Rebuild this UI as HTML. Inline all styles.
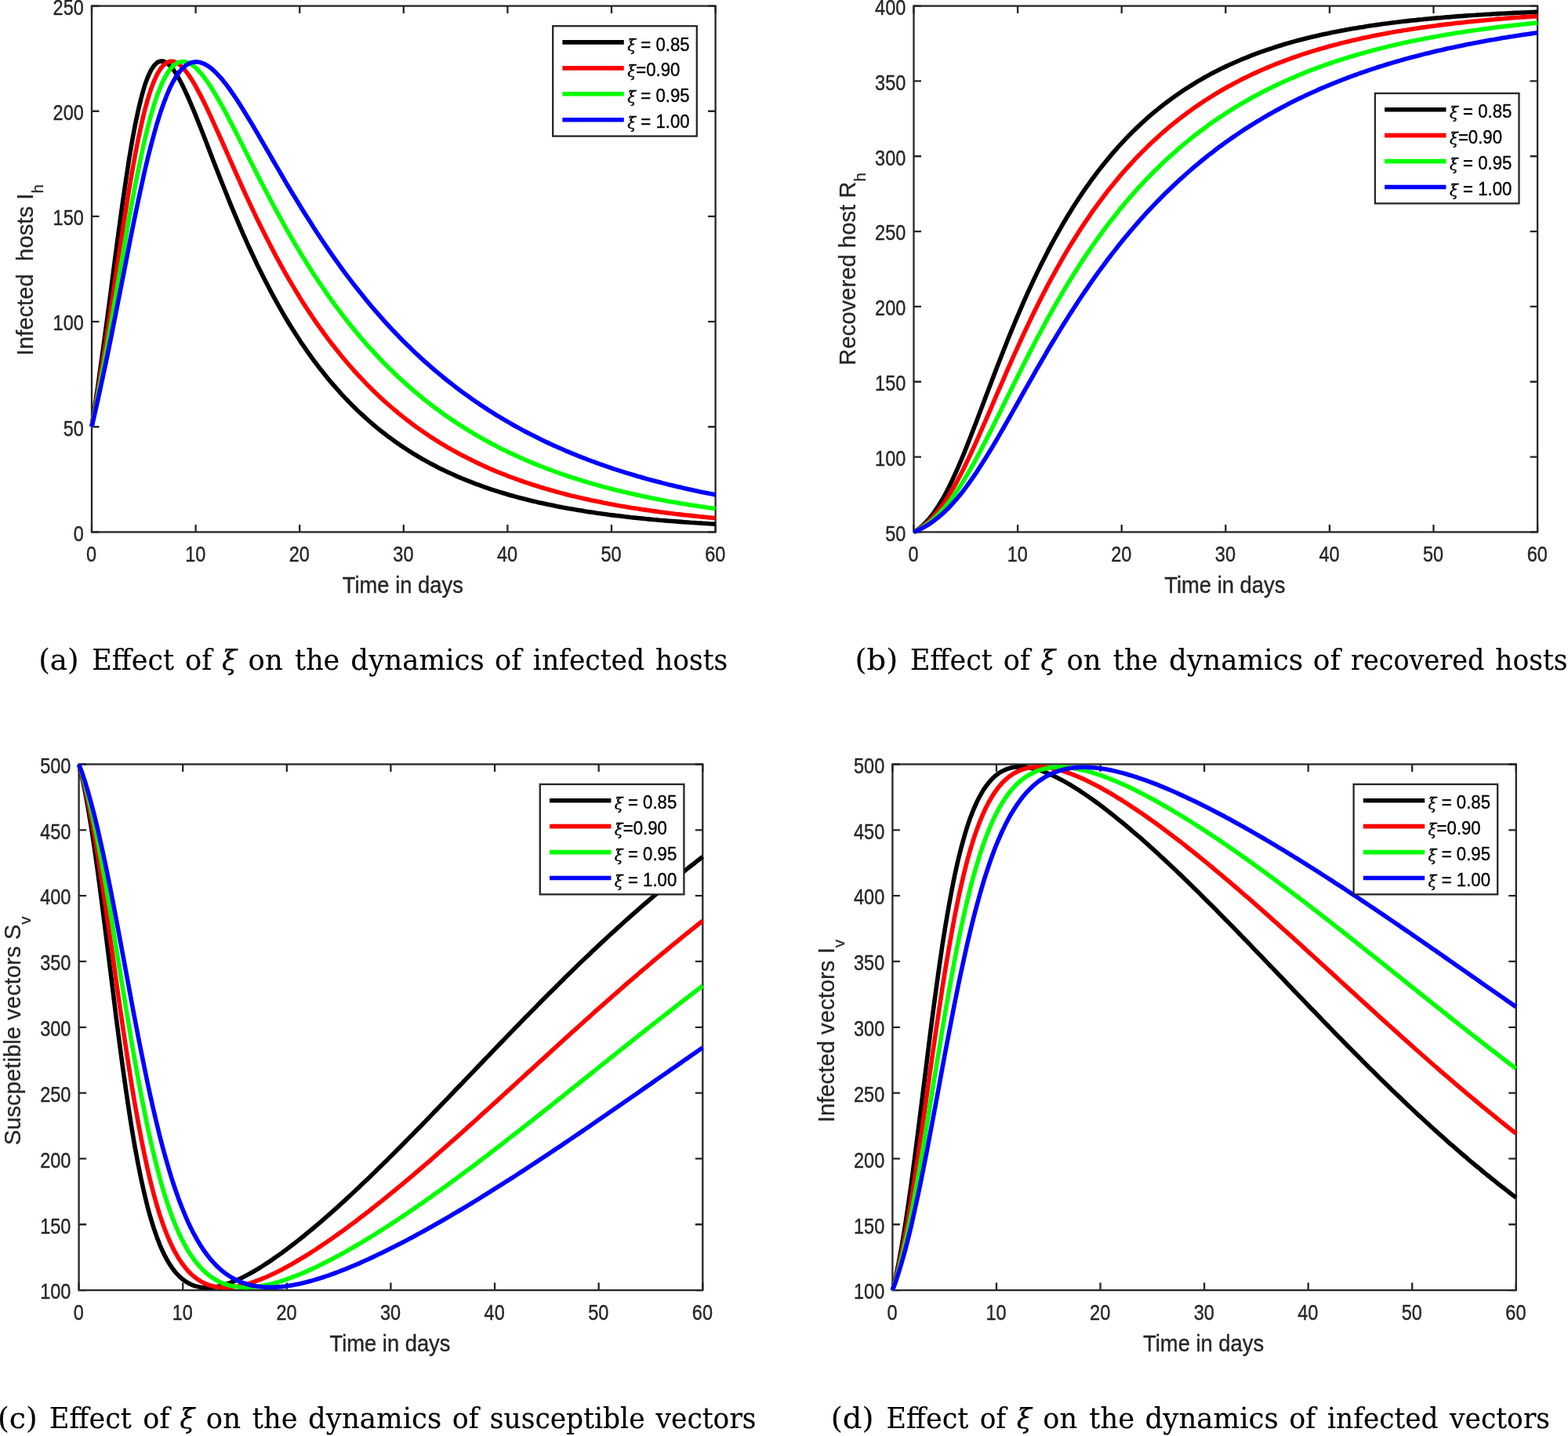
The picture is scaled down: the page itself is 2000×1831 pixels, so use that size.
<!DOCTYPE html>
<html lang="en">
<head>
<meta charset="utf-8">
<title>Effect of ξ on host and vector dynamics</title>
<style>
html,body{margin:0;padding:0;background:#ffffff;}
body{width:2000px;height:1831px;overflow:hidden;}
svg{display:block;}
text{white-space:pre;}
</style>
</head>
<body>
<svg width="2000" height="1831" viewBox="0 0 2000 1831" role="img" aria-label="Effect of xi on the dynamics of hosts and vectors">
<rect x="0" y="0" width="2000" height="1831" fill="#ffffff"/>
<g id="plot-a">
<rect x="117" y="7.6" width="795.6" height="670.8" fill="none" stroke="#262626" stroke-width="2.3"/>
<path d="M117 678.4v-9.5M117 7.6v9.5M249.6 678.4v-9.5M249.6 7.6v9.5M382.2 678.4v-9.5M382.2 7.6v9.5M514.8 678.4v-9.5M514.8 7.6v9.5M647.4 678.4v-9.5M647.4 7.6v9.5M780 678.4v-9.5M780 7.6v9.5M912.6 678.4v-9.5M912.6 7.6v9.5M117 678.4h9.5M912.6 678.4h-9.5M117 544.24h9.5M912.6 544.24h-9.5M117 410.08h9.5M912.6 410.08h-9.5M117 275.92h9.5M912.6 275.92h-9.5M117 141.76h9.5M912.6 141.76h-9.5M117 7.6h9.5M912.6 7.6h-9.5" stroke="#262626" stroke-width="2.3" fill="none"/>
<clipPath id="clip-a"><rect x="114" y="4.6" width="801.6" height="676.8"/></clipPath>
<g clip-path="url(#clip-a)" fill="none" stroke-width="5.6" stroke-linejoin="round" stroke-linecap="butt">
<path d="M117 544.2l4 -25.9l4 -26.9l3.9 -27.9l4 -28.8l4 -29.6l4 -30.1l3.9 -30.4l4 -30.3l4 -29.8l4 -28.8l4 -27.4l3.9 -25.7l4 -23.7l4 -21.3l4 -18.8l4 -16.3l3.9 -13.6l4 -10.9l4 -8.5l4 -6l3.9 -3.8l4 -1.7l4 0.1l4 1.9l3.9 3.3l4 4.6l4 5.8l4 6.8l4 7.5l3.9 8.2l4 8.8l4 9.3l4 9.6l3.9 9.9l4 10l4 10.3l4 10.2l4 10.4l3.9 10.3l4 10.2l4 10.2l4 10.1l4 10l3.9 9.9l4 9.7l4 9.6l4 9.4l3.9 9.2l4 9.1l4 8.9l4 8.7l4 8.5l3.9 8.4l4 8.1l4 8l4 7.8l4 7.7l3.9 7.4l4 7.3l4 7.2l4 6.9l3.9 6.8l4 6.7l4 6.4l4 6.4l4 6.1l3.9 6.1l4 5.8l4 5.8l4 5.6l3.9 5.5l4 5.3l4 5.2l4 5.1l4 5l3.9 4.8l4 4.7l4 4.6l4 4.5l3.9 4.4l4 4.3l4 4.1l4 4.1l3.9 4l4 3.9l4 3.7l4 3.7l4 3.6l3.9 3.5l4 3.5l4 3.3l4 3.3l3.9 3.1l4 3.1l4 3.1l4 2.9l4 2.9l3.9 2.8l4 2.8l4 2.6l4 2.6l4 2.6l3.9 2.5l4 2.4l4 2.4l4 2.3l3.9 2.2l4 2.2l4 2.1l4 2.1l4 2.1l3.9 2l4 1.9l4 1.9l4 1.8l4 1.8l3.9 1.8l4 1.7l4 1.7l4 1.6l3.9 1.6l4 1.5l4 1.6l4 1.4l3.9 1.5l4 1.4l4 1.4l4 1.3l4 1.3l3.9 1.3l4 1.2l4 1.2l4 1.2l3.9 1.2l4 1.1l4 1.1l4 1.1l4 1l3.9 1l4 1l4 1l4 0.9l4 1l3.9 0.8l4 0.9l4 0.9l4 0.8l3.9 0.8l4 0.8l4 0.8l4 0.8l4 0.7l3.9 0.7l4 0.7l4 0.7l4 0.7l3.9 0.6l4 0.7l4 0.6l4 0.6l4 0.6l3.9 0.6l4 0.5l4 0.6l4 0.5l4 0.6l3.9 0.5l4 0.5l4 0.4l4 0.5l3.9 0.5l4 0.4l4 0.5l4 0.4l3.9 0.4l4 0.4l4 0.4l4 0.4l4 0.4l3.9 0.4l4 0.3l4 0.4l4 0.3l4 0.4l3.9 0.3l4 0.3l4 0.3l4 0.3l3.9 0.3l4 0.3l4 0.3l4 0.3l4 0.2l3.9 0.3l4 0.2l4 0.3l4 0.2l3.9 0.3l4 0.2l4 0.2" stroke="#000000"/>
<path d="M117 544.2l4 -22.7l4 -23.4l3.9 -24.2l4 -24.9l4 -25.6l4 -26.2l3.9 -26.5l4 -26.6l4 -26.6l4 -26.2l4 -25.5l3.9 -24.5l4 -23.4l4 -21.9l4 -20.3l4 -18.5l3.9 -16.5l4 -14.6l4 -12.5l4 -10.5l3.9 -8.5l4 -6.7l4 -4.8l4 -3.1l3.9 -1.6l4 -0.1l4 1.2l4 2.5l4 3.5l3.9 4.4l4 5.2l4 6l4 6.6l3.9 7.1l4 7.6l4 7.9l4 8.3l4 8.5l3.9 8.7l4 8.8l4 8.9l4 9l4 9l3.9 9l4 9l4 9l4 8.9l3.9 8.8l4 8.8l4 8.6l4 8.6l4 8.4l3.9 8.3l4 8.2l4 8l4 7.9l4 7.8l3.9 7.6l4 7.6l4 7.3l4 7.3l3.9 7l4 7l4 6.8l4 6.7l4 6.6l3.9 6.4l4 6.3l4 6.2l4 6l3.9 5.9l4 5.8l4 5.7l4 5.5l4 5.5l3.9 5.3l4 5.2l4 5.1l4 5l3.9 4.9l4 4.8l4 4.7l4 4.5l3.9 4.5l4 4.4l4 4.3l4 4.2l4 4.2l3.9 4l4 3.9l4 3.9l4 3.8l3.9 3.7l4 3.6l4 3.5l4 3.5l4 3.4l3.9 3.3l4 3.2l4 3.2l4 3.1l4 3.1l3.9 2.9l4 3l4 2.8l4 2.8l3.9 2.7l4 2.7l4 2.6l4 2.6l4 2.5l3.9 2.4l4 2.4l4 2.4l4 2.3l4 2.2l3.9 2.2l4 2.2l4 2.1l4 2l3.9 2l4 2l4 1.9l4 1.9l3.9 1.9l4 1.8l4 1.8l4 1.7l4 1.7l3.9 1.7l4 1.6l4 1.6l4 1.5l3.9 1.6l4 1.4l4 1.5l4 1.4l4 1.4l3.9 1.4l4 1.3l4 1.3l4 1.3l4 1.2l3.9 1.3l4 1.2l4 1.1l4 1.2l3.9 1.1l4 1.1l4 1.1l4 1l4 1.1l3.9 1l4 1l4 0.9l4 1l3.9 0.9l4 0.9l4 0.9l4 0.9l4 0.8l3.9 0.8l4 0.8l4 0.9l4 0.7l4 0.8l3.9 0.7l4 0.8l4 0.7l4 0.7l3.9 0.6l4 0.7l4 0.7l4 0.6l3.9 0.6l4 0.6l4 0.7l4 0.5l4 0.6l3.9 0.6l4 0.5l4 0.6l4 0.5l4 0.5l3.9 0.5l4 0.5l4 0.5l4 0.4l3.9 0.5l4 0.5l4 0.4l4 0.4l4 0.5l3.9 0.4l4 0.4l4 0.4l4 0.4l3.9 0.4l4 0.3l4 0.4" stroke="#ff0000"/>
<path d="M117 544.2l4 -19.8l4 -20.4l3.9 -21l4 -21.5l4 -22.1l4 -22.6l3.9 -23l4 -23.2l4 -23.3l4 -23.3l4 -23l3.9 -22.6l4 -22l4 -21.1l4 -20.2l4 -19.1l3.9 -17.8l4 -16.4l4 -15l4 -13.5l3.9 -11.9l4 -10.4l4 -8.8l4 -7.3l3.9 -5.9l4 -4.5l4 -3.2l4 -2l4 -0.7l3.9 0.2l4 1.3l4 2.2l4 3l3.9 3.7l4 4.3l4 5l4 5.5l4 5.9l3.9 6.3l4 6.6l4 6.9l4 7.1l4 7.4l3.9 7.5l4 7.6l4 7.8l4 7.8l3.9 7.8l4 7.9l4 7.9l4 7.9l4 7.8l3.9 7.8l4 7.8l4 7.7l4 7.6l4 7.6l3.9 7.5l4 7.4l4 7.3l4 7.2l3.9 7.1l4 7l4 6.9l4 6.8l4 6.7l3.9 6.6l4 6.5l4 6.4l4 6.3l3.9 6.2l4 6.1l4 5.9l4 5.9l4 5.8l3.9 5.7l4 5.5l4 5.5l4 5.4l3.9 5.2l4 5.2l4 5.1l4 5l3.9 4.9l4 4.8l4 4.7l4 4.7l4 4.5l3.9 4.5l4 4.4l4 4.3l4 4.2l3.9 4.2l4 4l4 4l4 4l4 3.8l3.9 3.8l4 3.7l4 3.6l4 3.6l4 3.5l3.9 3.4l4 3.4l4 3.3l4 3.3l3.9 3.2l4 3.1l4 3.1l4 3l4 2.9l3.9 2.9l4 2.9l4 2.8l4 2.7l4 2.7l3.9 2.6l4 2.6l4 2.6l4 2.5l3.9 2.4l4 2.4l4 2.4l4 2.3l3.9 2.2l4 2.3l4 2.1l4 2.2l4 2.1l3.9 2.1l4 2l4 2l4 1.9l3.9 1.9l4 1.9l4 1.8l4 1.9l4 1.7l3.9 1.8l4 1.7l4 1.6l4 1.7l4 1.6l3.9 1.6l4 1.5l4 1.6l4 1.4l3.9 1.5l4 1.5l4 1.4l4 1.4l4 1.3l3.9 1.4l4 1.3l4 1.2l4 1.3l3.9 1.2l4 1.3l4 1.1l4 1.2l4 1.2l3.9 1.1l4 1.1l4 1.1l4 1l4 1.1l3.9 1l4 1l4 1l4 0.9l3.9 1l4 0.9l4 1l4 0.8l3.9 0.9l4 0.9l4 0.8l4 0.9l4 0.8l3.9 0.8l4 0.8l4 0.7l4 0.8l4 0.7l3.9 0.8l4 0.7l4 0.7l4 0.7l3.9 0.6l4 0.7l4 0.6l4 0.7l4 0.6l3.9 0.6l4 0.6l4 0.6l4 0.6l3.9 0.6l4 0.5l4 0.6" stroke="#00ff00"/>
<path d="M117 544.2l4 -17.3l4 -17.7l3.9 -18.2l4 -18.6l4 -19l4 -19.5l3.9 -19.8l4 -20.1l4 -20.2l4 -20.4l4 -20.4l3.9 -20.2l4 -20l4 -19.6l4 -19l4 -18.5l3.9 -17.7l4 -16.8l4 -15.9l4 -14.9l3.9 -13.8l4 -12.7l4 -11.5l4 -10.4l3.9 -9.2l4 -8l4 -6.8l4 -5.8l4 -4.6l3.9 -3.6l4 -2.6l4 -1.7l4 -0.8l3.9 0.1l4 0.8l4 1.5l4 2.1l4 2.8l3.9 3.3l4 3.8l4 4.3l4 4.6l4 5l3.9 5.3l4 5.6l4 5.9l4 6l3.9 6.3l4 6.4l4 6.5l4 6.6l4 6.7l3.9 6.7l4 6.9l4 6.8l4 6.9l4 6.9l3.9 6.8l4 6.9l4 6.8l4 6.8l3.9 6.8l4 6.7l4 6.7l4 6.6l4 6.5l3.9 6.5l4 6.4l4 6.4l4 6.2l3.9 6.2l4 6.2l4 6l4 6l4 5.9l3.9 5.8l4 5.7l4 5.7l4 5.6l3.9 5.5l4 5.4l4 5.3l4 5.3l3.9 5.1l4 5.1l4 5l4 5l4 4.9l3.9 4.7l4 4.8l4 4.6l4 4.6l3.9 4.5l4 4.4l4 4.4l4 4.3l4 4.2l3.9 4.1l4 4.1l4 4l4 4l4 3.9l3.9 3.8l4 3.8l4 3.7l4 3.7l3.9 3.5l4 3.6l4 3.4l4 3.5l4 3.3l3.9 3.3l4 3.3l4 3.2l4 3.1l4 3.1l3.9 3.1l4 3l4 2.9l4 2.9l3.9 2.8l4 2.9l4 2.7l4 2.7l3.9 2.7l4 2.6l4 2.6l4 2.6l4 2.4l3.9 2.5l4 2.4l4 2.4l4 2.3l3.9 2.3l4 2.3l4 2.2l4 2.2l4 2.2l3.9 2.1l4 2.1l4 2l4 2l4 2l3.9 2l4 1.9l4 1.9l4 1.8l3.9 1.9l4 1.7l4 1.8l4 1.7l4 1.8l3.9 1.6l4 1.7l4 1.6l4 1.6l3.9 1.6l4 1.5l4 1.6l4 1.5l4 1.4l3.9 1.5l4 1.4l4 1.4l4 1.4l4 1.3l3.9 1.4l4 1.3l4 1.3l4 1.2l3.9 1.3l4 1.2l4 1.2l4 1.2l3.9 1.2l4 1.1l4 1.2l4 1.1l4 1.1l3.9 1l4 1.1l4 1l4 1.1l4 1l3.9 1l4 0.9l4 1l4 0.9l3.9 0.9l4 1l4 0.9l4 0.8l4 0.9l3.9 0.9l4 0.8l4 0.8l4 0.8l3.9 0.8l4 0.8l4 0.8" stroke="#0000ff"/>
</g>
<g font-family="'Liberation Sans', Arial, Helvetica, sans-serif" font-size="27" fill="#262626" stroke="#262626" stroke-width="0.4" stroke-linejoin="round">
<text transform="translate(116.6 716.4) scale(0.87 1)" text-anchor="middle">0</text>
<text transform="translate(249.2 716.4) scale(0.87 1)" text-anchor="middle">10</text>
<text transform="translate(381.8 716.4) scale(0.87 1)" text-anchor="middle">20</text>
<text transform="translate(514.4 716.4) scale(0.87 1)" text-anchor="middle">30</text>
<text transform="translate(647 716.4) scale(0.87 1)" text-anchor="middle">40</text>
<text transform="translate(779.6 716.4) scale(0.87 1)" text-anchor="middle">50</text>
<text transform="translate(912.2 716.4) scale(0.87 1)" text-anchor="middle">60</text>
<text transform="translate(106.8 689.7) scale(0.87 1)" text-anchor="end">0</text>
<text transform="translate(106.8 555.54) scale(0.87 1)" text-anchor="end">50</text>
<text transform="translate(106.8 421.38) scale(0.87 1)" text-anchor="end">100</text>
<text transform="translate(106.8 287.22) scale(0.87 1)" text-anchor="end">150</text>
<text transform="translate(106.8 153.06) scale(0.87 1)" text-anchor="end">200</text>
<text transform="translate(106.8 18.9) scale(0.87 1)" text-anchor="end">250</text>
</g>
<g font-family="'Liberation Sans', Arial, Helvetica, sans-serif" font-size="29.6" fill="#262626" stroke="#262626" stroke-width="0.4" stroke-linejoin="round">
<text transform="translate(513.8 755.8) scale(0.9 1)" text-anchor="middle" font-size="30.4">Time in days</text>
<text transform="translate(42.2 344.3) rotate(-90) scale(0.99 1)" text-anchor="middle" font-size="29.6" stroke-width="0.25" xml:space="preserve">Infected  hosts I<tspan font-size="20.7" dy="13">h</tspan></text>
</g>
<rect x="705.2" y="33.2" width="183.6" height="140.4" fill="#ffffff" stroke="#262626" stroke-width="2.3"/>
<path d="M717.4 53.9h78.4" stroke="#000000" stroke-width="5.6" fill="none"/>
<text transform="translate(800.2 64.5) scale(0.94 1)" font-family="'Liberation Sans', Arial, Helvetica, sans-serif" font-size="23.6" fill="#000000" stroke="#000000" stroke-width="0.35" xml:space="preserve"><tspan font-family="'DejaVu Serif', 'Liberation Serif', serif" font-style="italic" font-size="21.24" dy="0.5">ξ</tspan><tspan dx="0" dy="-0.5"> = 0.85</tspan></text>
<path d="M717.4 86.85h78.4" stroke="#ff0000" stroke-width="5.6" fill="none"/>
<text transform="translate(800.2 97.45) scale(0.94 1)" font-family="'Liberation Sans', Arial, Helvetica, sans-serif" font-size="23.6" fill="#000000" stroke="#000000" stroke-width="0.35" xml:space="preserve"><tspan font-family="'DejaVu Serif', 'Liberation Serif', serif" font-style="italic" font-size="21.24" dy="0.5">ξ</tspan><tspan dx="0" dy="-0.5">=0.90</tspan></text>
<path d="M717.4 119.8h78.4" stroke="#00ff00" stroke-width="5.6" fill="none"/>
<text transform="translate(800.2 130.4) scale(0.94 1)" font-family="'Liberation Sans', Arial, Helvetica, sans-serif" font-size="23.6" fill="#000000" stroke="#000000" stroke-width="0.35" xml:space="preserve"><tspan font-family="'DejaVu Serif', 'Liberation Serif', serif" font-style="italic" font-size="21.24" dy="0.5">ξ</tspan><tspan dx="0" dy="-0.5"> = 0.95</tspan></text>
<path d="M717.4 152.75h78.4" stroke="#0000ff" stroke-width="5.6" fill="none"/>
<text transform="translate(800.2 163.35) scale(0.94 1)" font-family="'Liberation Sans', Arial, Helvetica, sans-serif" font-size="23.6" fill="#000000" stroke="#000000" stroke-width="0.35" xml:space="preserve"><tspan font-family="'DejaVu Serif', 'Liberation Serif', serif" font-style="italic" font-size="21.24" dy="0.5">ξ</tspan><tspan dx="0" dy="-0.5"> = 1.00</tspan></text>
</g>
<g id="plot-b">
<rect x="1165.5" y="7.6" width="795.6" height="670.8" fill="none" stroke="#262626" stroke-width="2.3"/>
<path d="M1165.5 678.4v-9.5M1165.5 7.6v9.5M1298.1 678.4v-9.5M1298.1 7.6v9.5M1430.7 678.4v-9.5M1430.7 7.6v9.5M1563.3 678.4v-9.5M1563.3 7.6v9.5M1695.9 678.4v-9.5M1695.9 7.6v9.5M1828.5 678.4v-9.5M1828.5 7.6v9.5M1961.1 678.4v-9.5M1961.1 7.6v9.5M1165.5 678.4h9.5M1961.1 678.4h-9.5M1165.5 582.57h9.5M1961.1 582.57h-9.5M1165.5 486.74h9.5M1961.1 486.74h-9.5M1165.5 390.91h9.5M1961.1 390.91h-9.5M1165.5 295.09h9.5M1961.1 295.09h-9.5M1165.5 199.26h9.5M1961.1 199.26h-9.5M1165.5 103.43h9.5M1961.1 103.43h-9.5M1165.5 7.6h9.5M1961.1 7.6h-9.5" stroke="#262626" stroke-width="2.3" fill="none"/>
<clipPath id="clip-b"><rect x="1162.5" y="4.6" width="801.6" height="676.8"/></clipPath>
<g clip-path="url(#clip-b)" fill="none" stroke-width="5.6" stroke-linejoin="round" stroke-linecap="butt">
<path d="M1165.5 678.4l4 -2.5l4 -3l3.9 -3.4l4 -4l4 -4.4l4 -5l3.9 -5.5l4 -6.1l4 -6.5l4 -7.1l4 -7.6l3.9 -8.1l4 -8.5l4 -8.9l4 -9.3l4 -9.5l3.9 -9.9l4 -10.1l4 -10.2l4 -10.4l3.9 -10.5l4 -10.5l4 -10.6l4 -10.5l4 -10.5l3.9 -10.4l4 -10.4l4 -10.2l4 -10.1l3.9 -10l4 -9.8l4 -9.7l4 -9.5l4 -9.3l3.9 -9.2l4 -9l4 -8.8l4 -8.6l3.9 -8.4l4 -8.3l4 -8l4 -7.9l3.9 -7.8l4 -7.5l4 -7.4l4 -7.2l4 -7l3.9 -6.9l4 -6.7l4 -6.5l4 -6.4l4 -6.2l3.9 -6.1l4 -6l4 -5.8l4 -5.6l3.9 -5.6l4 -5.3l4 -5.3l4 -5.1l4 -5l3.9 -4.9l4 -4.8l4 -4.7l4 -4.5l3.9 -4.4l4 -4.3l4 -4.3l4 -4.1l4 -4l3.9 -3.9l4 -3.8l4 -3.7l4 -3.7l3.9 -3.5l4 -3.5l4 -3.4l4 -3.2l4 -3.3l3.9 -3.1l4 -3l4 -3l4 -2.9l4 -2.9l3.9 -2.7l4 -2.7l4 -2.7l4 -2.5l3.9 -2.5l4 -2.5l4 -2.4l4 -2.3l4 -2.3l3.9 -2.2l4 -2.2l4 -2.1l4 -2l3.9 -2l4 -2l4 -1.9l4 -1.9l4 -1.8l3.9 -1.7l4 -1.8l4 -1.7l4 -1.6l4 -1.6l3.9 -1.6l4 -1.5l4 -1.5l4 -1.5l3.9 -1.4l4 -1.4l4 -1.3l4 -1.3l4 -1.3l3.9 -1.3l4 -1.2l4 -1.2l4 -1.2l3.9 -1.1l4 -1.1l4 -1.1l4 -1l4 -1l3.9 -1.1l4 -0.9l4 -1l4 -0.9l3.9 -0.9l4 -0.9l4 -0.9l4 -0.8l3.9 -0.9l4 -0.7l4 -0.8l4 -0.8l4 -0.7l3.9 -0.8l4 -0.7l4 -0.7l4 -0.6l3.9 -0.7l4 -0.6l4 -0.7l4 -0.6l4 -0.6l3.9 -0.6l4 -0.5l4 -0.6l4 -0.5l4 -0.5l3.9 -0.6l4 -0.5l4 -0.4l4 -0.5l3.9 -0.5l4 -0.4l4 -0.5l4 -0.4l4 -0.4l3.9 -0.5l4 -0.3l4 -0.4l4 -0.4l3.9 -0.4l4 -0.4l4 -0.3l4 -0.3l4 -0.4l3.9 -0.3l4 -0.3l4 -0.4l4 -0.3l4 -0.3l3.9 -0.2l4 -0.3l4 -0.3l4 -0.3l3.9 -0.2l4 -0.3l4 -0.2l4 -0.3l4 -0.2l3.9 -0.2l4 -0.3l4 -0.2l4 -0.2l3.9 -0.2l4 -0.2l4 -0.2l4 -0.2l3.9 -0.2l4 -0.2l4 -0.2l4 -0.1l4 -0.2l3.9 -0.2l4 -0.1l4 -0.2" stroke="#000000"/>
<path d="M1165.5 678.4l4 -2.2l4 -2.5l3.9 -2.9l4 -3.3l4 -3.6l4 -4.1l3.9 -4.5l4 -4.9l4 -5.2l4 -5.7l4 -6.1l3.9 -6.5l4 -6.9l4 -7.2l4 -7.5l4 -7.8l3.9 -8.2l4 -8.3l4 -8.6l4 -8.8l3.9 -8.8l4 -9.1l4 -9.1l4 -9.2l4 -9.2l3.9 -9.3l4 -9.2l4 -9.2l4 -9.2l3.9 -9.1l4 -9l4 -9l4 -8.8l4 -8.8l3.9 -8.6l4 -8.5l4 -8.4l4 -8.3l3.9 -8.1l4 -8l4 -7.9l4 -7.7l3.9 -7.6l4 -7.4l4 -7.3l4 -7.2l4 -7l3.9 -6.9l4 -6.8l4 -6.6l4 -6.5l4 -6.4l3.9 -6.2l4 -6.1l4 -6l4 -5.8l3.9 -5.8l4 -5.6l4 -5.5l4 -5.3l4 -5.3l3.9 -5.2l4 -5l4 -4.9l4 -4.9l3.9 -4.7l4 -4.7l4 -4.5l4 -4.4l4 -4.4l3.9 -4.2l4 -4.2l4 -4.1l4 -3.9l3.9 -3.9l4 -3.9l4 -3.7l4 -3.6l4 -3.6l3.9 -3.5l4 -3.4l4 -3.4l4 -3.3l4 -3.2l3.9 -3.1l4 -3.1l4 -3l4 -3l3.9 -2.8l4 -2.9l4 -2.7l4 -2.7l4 -2.7l3.9 -2.5l4 -2.6l4 -2.4l4 -2.5l3.9 -2.4l4 -2.3l4 -2.2l4 -2.3l4 -2.1l3.9 -2.2l4 -2l4 -2.1l4 -2l4 -1.9l3.9 -1.9l4 -1.9l4 -1.8l4 -1.8l3.9 -1.8l4 -1.7l4 -1.6l4 -1.7l4 -1.6l3.9 -1.6l4 -1.5l4 -1.5l4 -1.5l3.9 -1.4l4 -1.4l4 -1.4l4 -1.4l4 -1.3l3.9 -1.3l4 -1.2l4 -1.3l4 -1.2l3.9 -1.1l4 -1.2l4 -1.1l4 -1.2l3.9 -1l4 -1.1l4 -1l4 -1.1l4 -1l3.9 -0.9l4 -1l4 -0.9l4 -0.9l3.9 -0.9l4 -0.9l4 -0.8l4 -0.9l4 -0.8l3.9 -0.8l4 -0.8l4 -0.8l4 -0.7l4 -0.8l3.9 -0.7l4 -0.7l4 -0.7l4 -0.6l3.9 -0.7l4 -0.6l4 -0.7l4 -0.6l4 -0.6l3.9 -0.6l4 -0.6l4 -0.5l4 -0.6l3.9 -0.5l4 -0.5l4 -0.6l4 -0.5l4 -0.5l3.9 -0.5l4 -0.4l4 -0.5l4 -0.5l4 -0.4l3.9 -0.4l4 -0.5l4 -0.4l4 -0.4l3.9 -0.4l4 -0.4l4 -0.4l4 -0.3l4 -0.4l3.9 -0.4l4 -0.3l4 -0.4l4 -0.3l3.9 -0.3l4 -0.4l4 -0.3l4 -0.3l3.9 -0.3l4 -0.3l4 -0.3l4 -0.2l4 -0.3l3.9 -0.3l4 -0.2l4 -0.3" stroke="#ff0000"/>
<path d="M1165.5 678.4l4 -1.9l4 -2.2l3.9 -2.4l4 -2.7l4 -3.1l4 -3.3l3.9 -3.6l4 -3.9l4 -4.3l4 -4.5l4 -4.9l3.9 -5.2l4 -5.5l4 -5.8l4 -6.1l4 -6.3l3.9 -6.6l4 -6.8l4 -7l4 -7.2l3.9 -7.4l4 -7.6l4 -7.7l4 -7.8l4 -7.8l3.9 -8l4 -8l4 -8.1l4 -8.1l3.9 -8l4 -8.1l4 -8.1l4 -8l4 -8l3.9 -7.9l4 -7.8l4 -7.8l4 -7.7l3.9 -7.7l4 -7.5l4 -7.5l4 -7.3l3.9 -7.3l4 -7.1l4 -7.1l4 -7l4 -6.8l3.9 -6.8l4 -6.6l4 -6.5l4 -6.5l4 -6.3l3.9 -6.2l4 -6.1l4 -6l4 -5.9l3.9 -5.8l4 -5.7l4 -5.6l4 -5.5l4 -5.4l3.9 -5.3l4 -5.2l4 -5.1l4 -5l3.9 -5l4 -4.8l4 -4.8l4 -4.6l4 -4.6l3.9 -4.5l4 -4.4l4 -4.3l4 -4.3l3.9 -4.2l4 -4l4 -4.1l4 -3.9l4 -3.9l3.9 -3.8l4 -3.7l4 -3.6l4 -3.6l4 -3.5l3.9 -3.5l4 -3.4l4 -3.3l4 -3.3l3.9 -3.2l4 -3.1l4 -3.1l4 -3l4 -3l3.9 -2.9l4 -2.9l4 -2.8l4 -2.7l3.9 -2.7l4 -2.7l4 -2.6l4 -2.5l4 -2.5l3.9 -2.5l4 -2.4l4 -2.4l4 -2.3l4 -2.3l3.9 -2.2l4 -2.2l4 -2.1l4 -2.2l3.9 -2l4 -2.1l4 -2l4 -1.9l4 -1.9l3.9 -1.9l4 -1.9l4 -1.8l4 -1.8l3.9 -1.7l4 -1.7l4 -1.7l4 -1.7l4 -1.6l3.9 -1.6l4 -1.5l4 -1.6l4 -1.5l3.9 -1.4l4 -1.5l4 -1.4l4 -1.4l3.9 -1.4l4 -1.3l4 -1.3l4 -1.3l4 -1.3l3.9 -1.2l4 -1.2l4 -1.2l4 -1.2l3.9 -1.1l4 -1.2l4 -1.1l4 -1.1l4 -1l3.9 -1.1l4 -1l4 -1l4 -1l4 -1l3.9 -0.9l4 -1l4 -0.9l4 -0.9l3.9 -0.9l4 -0.8l4 -0.9l4 -0.8l4 -0.8l3.9 -0.8l4 -0.8l4 -0.8l4 -0.7l3.9 -0.8l4 -0.7l4 -0.7l4 -0.7l4 -0.7l3.9 -0.7l4 -0.7l4 -0.6l4 -0.7l4 -0.6l3.9 -0.6l4 -0.6l4 -0.6l4 -0.6l3.9 -0.6l4 -0.5l4 -0.6l4 -0.5l4 -0.5l3.9 -0.5l4 -0.6l4 -0.5l4 -0.4l3.9 -0.5l4 -0.5l4 -0.5l4 -0.4l3.9 -0.5l4 -0.4l4 -0.4l4 -0.4l4 -0.5l3.9 -0.4l4 -0.4l4 -0.4" stroke="#00ff00"/>
<path d="M1165.5 678.4l4 -1.6l4 -1.9l3.9 -2.1l4 -2.2l4 -2.5l4 -2.7l3.9 -3l4 -3.2l4 -3.4l4 -3.7l4 -3.9l3.9 -4.1l4 -4.4l4 -4.6l4 -4.9l4 -5l3.9 -5.3l4 -5.5l4 -5.7l4 -5.8l3.9 -6.1l4 -6.2l4 -6.3l4 -6.5l4 -6.5l3.9 -6.7l4 -6.8l4 -6.9l4 -6.9l3.9 -6.9l4 -7l4 -7.1l4 -7l4 -7.1l3.9 -7l4 -7.1l4 -7l4 -7l3.9 -6.9l4 -6.9l4 -6.9l4 -6.8l3.9 -6.8l4 -6.7l4 -6.6l4 -6.6l4 -6.5l3.9 -6.4l4 -6.3l4 -6.3l4 -6.2l4 -6.1l3.9 -6.1l4 -5.9l4 -5.9l4 -5.8l3.9 -5.7l4 -5.7l4 -5.5l4 -5.5l4 -5.4l3.9 -5.3l4 -5.2l4 -5.2l4 -5.1l3.9 -5l4 -4.9l4 -4.8l4 -4.8l4 -4.7l3.9 -4.6l4 -4.6l4 -4.5l4 -4.4l3.9 -4.3l4 -4.3l4 -4.2l4 -4.1l4 -4.1l3.9 -4l4 -3.9l4 -3.9l4 -3.8l4 -3.7l3.9 -3.7l4 -3.6l4 -3.6l4 -3.5l3.9 -3.5l4 -3.4l4 -3.3l4 -3.3l4 -3.2l3.9 -3.2l4 -3.2l4 -3l4 -3.1l3.9 -3l4 -2.9l4 -2.9l4 -2.8l4 -2.8l3.9 -2.7l4 -2.7l4 -2.7l4 -2.6l4 -2.6l3.9 -2.5l4 -2.5l4 -2.4l4 -2.4l3.9 -2.4l4 -2.3l4 -2.3l4 -2.2l4 -2.3l3.9 -2.1l4 -2.2l4 -2.1l4 -2.1l3.9 -2l4 -2l4 -2l4 -1.9l4 -1.9l3.9 -1.9l4 -1.8l4 -1.8l4 -1.8l3.9 -1.8l4 -1.7l4 -1.7l4 -1.7l3.9 -1.6l4 -1.6l4 -1.6l4 -1.6l4 -1.5l3.9 -1.5l4 -1.5l4 -1.5l4 -1.4l3.9 -1.5l4 -1.3l4 -1.4l4 -1.4l4 -1.3l3.9 -1.3l4 -1.3l4 -1.2l4 -1.3l4 -1.2l3.9 -1.2l4 -1.2l4 -1.1l4 -1.2l3.9 -1.1l4 -1.1l4 -1.1l4 -1.1l4 -1l3.9 -1l4 -1.1l4 -1l4 -0.9l3.9 -1l4 -1l4 -0.9l4 -0.9l4 -0.9l3.9 -0.9l4 -0.9l4 -0.8l4 -0.9l4 -0.8l3.9 -0.8l4 -0.9l4 -0.8l4 -0.7l3.9 -0.8l4 -0.7l4 -0.8l4 -0.7l4 -0.7l3.9 -0.8l4 -0.6l4 -0.7l4 -0.7l3.9 -0.7l4 -0.6l4 -0.7l4 -0.6l3.9 -0.6l4 -0.6l4 -0.6l4 -0.6l4 -0.6l3.9 -0.5l4 -0.6l4 -0.5" stroke="#0000ff"/>
</g>
<g font-family="'Liberation Sans', Arial, Helvetica, sans-serif" font-size="27" fill="#262626" stroke="#262626" stroke-width="0.4" stroke-linejoin="round">
<text transform="translate(1165.1 716.4) scale(0.87 1)" text-anchor="middle">0</text>
<text transform="translate(1297.7 716.4) scale(0.87 1)" text-anchor="middle">10</text>
<text transform="translate(1430.3 716.4) scale(0.87 1)" text-anchor="middle">20</text>
<text transform="translate(1562.9 716.4) scale(0.87 1)" text-anchor="middle">30</text>
<text transform="translate(1695.5 716.4) scale(0.87 1)" text-anchor="middle">40</text>
<text transform="translate(1828.1 716.4) scale(0.87 1)" text-anchor="middle">50</text>
<text transform="translate(1960.7 716.4) scale(0.87 1)" text-anchor="middle">60</text>
<text transform="translate(1155.3 689.7) scale(0.87 1)" text-anchor="end">50</text>
<text transform="translate(1155.3 593.87) scale(0.87 1)" text-anchor="end">100</text>
<text transform="translate(1155.3 498.04) scale(0.87 1)" text-anchor="end">150</text>
<text transform="translate(1155.3 402.21) scale(0.87 1)" text-anchor="end">200</text>
<text transform="translate(1155.3 306.39) scale(0.87 1)" text-anchor="end">250</text>
<text transform="translate(1155.3 210.56) scale(0.87 1)" text-anchor="end">300</text>
<text transform="translate(1155.3 114.73) scale(0.87 1)" text-anchor="end">350</text>
<text transform="translate(1155.3 18.9) scale(0.87 1)" text-anchor="end">400</text>
</g>
<g font-family="'Liberation Sans', Arial, Helvetica, sans-serif" font-size="29.6" fill="#262626" stroke="#262626" stroke-width="0.4" stroke-linejoin="round">
<text transform="translate(1562.3 755.8) scale(0.9 1)" text-anchor="middle" font-size="30.4">Time in days</text>
<text transform="translate(1091 343) rotate(-90) scale(0.99 1)" text-anchor="middle" font-size="29.6" stroke-width="0.25" xml:space="preserve">Recovered host R<tspan font-size="20.7" dy="13">h</tspan></text>
</g>
<rect x="1753.9" y="119" width="183.6" height="140.4" fill="#ffffff" stroke="#262626" stroke-width="2.3"/>
<path d="M1766.1 139.7h78.4" stroke="#000000" stroke-width="5.6" fill="none"/>
<text transform="translate(1848.9 150.3) scale(0.94 1)" font-family="'Liberation Sans', Arial, Helvetica, sans-serif" font-size="23.6" fill="#000000" stroke="#000000" stroke-width="0.35" xml:space="preserve"><tspan font-family="'DejaVu Serif', 'Liberation Serif', serif" font-style="italic" font-size="21.24" dy="0.5">ξ</tspan><tspan dx="0" dy="-0.5"> = 0.85</tspan></text>
<path d="M1766.1 172.65h78.4" stroke="#ff0000" stroke-width="5.6" fill="none"/>
<text transform="translate(1848.9 183.25) scale(0.94 1)" font-family="'Liberation Sans', Arial, Helvetica, sans-serif" font-size="23.6" fill="#000000" stroke="#000000" stroke-width="0.35" xml:space="preserve"><tspan font-family="'DejaVu Serif', 'Liberation Serif', serif" font-style="italic" font-size="21.24" dy="0.5">ξ</tspan><tspan dx="0" dy="-0.5">=0.90</tspan></text>
<path d="M1766.1 205.6h78.4" stroke="#00ff00" stroke-width="5.6" fill="none"/>
<text transform="translate(1848.9 216.2) scale(0.94 1)" font-family="'Liberation Sans', Arial, Helvetica, sans-serif" font-size="23.6" fill="#000000" stroke="#000000" stroke-width="0.35" xml:space="preserve"><tspan font-family="'DejaVu Serif', 'Liberation Serif', serif" font-style="italic" font-size="21.24" dy="0.5">ξ</tspan><tspan dx="0" dy="-0.5"> = 0.95</tspan></text>
<path d="M1766.1 238.55h78.4" stroke="#0000ff" stroke-width="5.6" fill="none"/>
<text transform="translate(1848.9 249.15) scale(0.94 1)" font-family="'Liberation Sans', Arial, Helvetica, sans-serif" font-size="23.6" fill="#000000" stroke="#000000" stroke-width="0.35" xml:space="preserve"><tspan font-family="'DejaVu Serif', 'Liberation Serif', serif" font-style="italic" font-size="21.24" dy="0.5">ξ</tspan><tspan dx="0" dy="-0.5"> = 1.00</tspan></text>
</g>
<g id="plot-c">
<rect x="100.6" y="974.5" width="795.7" height="670.6" fill="none" stroke="#262626" stroke-width="2.3"/>
<path d="M100.6 1645.1v-9.5M100.6 974.5v9.5M233.22 1645.1v-9.5M233.22 974.5v9.5M365.83 1645.1v-9.5M365.83 974.5v9.5M498.45 1645.1v-9.5M498.45 974.5v9.5M631.07 1645.1v-9.5M631.07 974.5v9.5M763.68 1645.1v-9.5M763.68 974.5v9.5M896.3 1645.1v-9.5M896.3 974.5v9.5M100.6 1645.1h9.5M896.3 1645.1h-9.5M100.6 1561.27h9.5M896.3 1561.27h-9.5M100.6 1477.45h9.5M896.3 1477.45h-9.5M100.6 1393.62h9.5M896.3 1393.62h-9.5M100.6 1309.8h9.5M896.3 1309.8h-9.5M100.6 1225.97h9.5M896.3 1225.97h-9.5M100.6 1142.15h9.5M896.3 1142.15h-9.5M100.6 1058.33h9.5M896.3 1058.33h-9.5M100.6 974.5h9.5M896.3 974.5h-9.5" stroke="#262626" stroke-width="2.3" fill="none"/>
<clipPath id="clip-c"><rect x="97.6" y="971.5" width="801.7" height="676.6"/></clipPath>
<g clip-path="url(#clip-c)" fill="none" stroke-width="5.6" stroke-linejoin="round" stroke-linecap="butt">
<path d="M100.6 974.5l4 16.3l4 19.1l3.9 21.7l4 24l4 26.3l4 28.1l3.9 29.7l4 30.9l4 31.7l4 32.2l4 32.1l3.9 31.7l4 30.9l4 29.9l4 28.4l4 27l3.9 25.2l4 23.3l4 21.6l4 19.7l4 17.9l3.9 16.2l4 14.5l4 13l4 11.5l3.9 10.2l4 9l4 7.9l4 6.8l3.9 5.9l4 5.1l4 4.4l4 3.6l4 3.1l3.9 2.5l4 1.9l4 1.6l4 1.1l4 0.8l3.9 0.4l4 0.2l4 -0.2l4 -0.4l3.9 -0.6l4 -0.8l4 -1l4 -1.2l4 -1.3l4 -1.5l3.9 -1.6l4 -1.8l4 -1.8l4 -2l3.9 -2.1l4 -2.1l4 -2.3l4 -2.3l4 -2.4l3.9 -2.5l4 -2.6l4 -2.6l4 -2.7l3.9 -2.8l4 -2.8l4 -2.8l4 -2.9l4 -3l3.9 -3l4 -3.1l4 -3.1l4 -3.1l4 -3.2l3.9 -3.3l4 -3.2l4 -3.3l4 -3.4l3.9 -3.3l4 -3.5l4 -3.4l4 -3.5l4 -3.5l3.9 -3.5l4 -3.6l4 -3.6l4 -3.6l4 -3.7l3.9 -3.7l4 -3.7l4 -3.7l4 -3.7l3.9 -3.8l4 -3.8l4 -3.8l4 -3.9l4 -3.8l3.9 -3.9l4 -3.9l4 -3.9l4 -3.9l3.9 -4l4 -3.9l4 -4l4 -4l4 -4l3.9 -4l4 -4.1l4 -4l4 -4.1l4 -4.1l3.9 -4l4 -4.1l4 -4.1l4 -4.1l3.9 -4.1l4 -4.1l4 -4.2l4 -4.1l4 -4.1l3.9 -4.2l4 -4.1l4 -4.2l4 -4.1l4 -4.1l3.9 -4.2l4 -4.2l4 -4.1l4 -4.1l4 -4.2l3.9 -4.1l4 -4.2l4 -4.1l4 -4.2l3.9 -4.1l4 -4.1l4 -4.2l4 -4.1l3.9 -4.1l4 -4.1l4 -4.1l4 -4.1l4 -4.1l3.9 -4.1l4 -4.1l4 -4l4 -4.1l4 -4l3.9 -4l4 -4.1l4 -4l4 -4l4 -4l3.9 -3.9l4 -4l4 -3.9l4 -4l3.9 -3.9l4 -3.9l4 -3.8l4 -3.9l4 -3.9l3.9 -3.8l4 -3.8l4 -3.8l4 -3.8l3.9 -3.8l4 -3.7l4 -3.8l4 -3.7l4 -3.7l3.9 -3.7l4 -3.6l4 -3.6l4 -3.7l4 -3.6l3.9 -3.5l4 -3.6l4 -3.5l4 -3.6l4 -3.5l3.9 -3.4l4 -3.5l4 -3.4l4 -3.4l3.9 -3.4l4 -3.4l4 -3.3l4 -3.3l4 -3.4l3.9 -3.2l4 -3.3l4 -3.2l4 -3.2l4 -3.2l3.9 -3.2l4 -3.1l4 -3.1l4 -3.1l3.9 -3.1l4 -3.1l4 -3" stroke="#000000"/>
<path d="M100.6 974.5l4 14.2l4 16.3l3.9 18.4l4 20.2l4 22l4 23.6l3.9 25l4 26.1l4 27.1l4 27.7l4 28.1l3.9 28.2l4 28l4 27.6l4 26.8l4 26.1l3.9 24.9l4 23.8l4 22.5l4 21.1l4 19.7l3.9 18.3l4 16.9l4 15.5l4 14.2l3.9 12.9l4 11.7l4 10.6l4 9.5l3.9 8.6l4 7.6l4 6.8l4 6l4 5.3l3.9 4.7l4 4l4 3.5l4 3l4 2.6l3.9 2.1l4 1.8l4 1.4l4 1.1l3.9 0.8l4 0.5l4 0.3l4 0.1l4 -0.2l4 -0.3l3.9 -0.5l4 -0.7l4 -0.8l4 -0.9l3.9 -1.1l4 -1.2l4 -1.3l4 -1.5l4 -1.5l3.9 -1.6l4 -1.6l4 -1.8l4 -1.9l3.9 -1.9l4 -2l4 -2l4 -2.1l4 -2.2l3.9 -2.2l4 -2.3l4 -2.3l4 -2.4l4 -2.4l3.9 -2.4l4 -2.5l4 -2.6l4 -2.5l3.9 -2.7l4 -2.6l4 -2.7l4 -2.7l4 -2.8l3.9 -2.8l4 -2.8l4 -2.9l4 -2.8l4 -3l3.9 -2.9l4 -2.9l4 -3l4 -3.1l3.9 -3l4 -3.1l4 -3l4 -3.2l4 -3.1l3.9 -3.1l4 -3.2l4 -3.2l4 -3.2l3.9 -3.3l4 -3.2l4 -3.3l4 -3.3l4 -3.3l3.9 -3.3l4 -3.3l4 -3.4l4 -3.4l4 -3.4l3.9 -3.4l4 -3.4l4 -3.4l4 -3.5l3.9 -3.4l4 -3.5l4 -3.5l4 -3.5l4 -3.5l3.9 -3.5l4 -3.5l4 -3.5l4 -3.6l4 -3.5l3.9 -3.6l4 -3.6l4 -3.5l4 -3.6l4 -3.6l3.9 -3.6l4 -3.6l4 -3.6l4 -3.6l3.9 -3.6l4 -3.6l4 -3.7l4 -3.6l3.9 -3.6l4 -3.7l4 -3.6l4 -3.6l4 -3.7l3.9 -3.6l4 -3.6l4 -3.7l4 -3.6l4 -3.6l3.9 -3.7l4 -3.6l4 -3.6l4 -3.7l4 -3.6l3.9 -3.6l4 -3.6l4 -3.6l4 -3.7l3.9 -3.6l4 -3.6l4 -3.6l4 -3.5l4 -3.6l3.9 -3.6l4 -3.6l4 -3.6l4 -3.5l3.9 -3.6l4 -3.5l4 -3.5l4 -3.6l4 -3.5l3.9 -3.5l4 -3.5l4 -3.5l4 -3.5l4 -3.4l3.9 -3.5l4 -3.5l4 -3.4l4 -3.4l4 -3.4l3.9 -3.5l4 -3.3l4 -3.4l4 -3.4l3.9 -3.4l4 -3.3l4 -3.3l4 -3.4l4 -3.2l3.9 -3.3l4 -3.3l4 -3.3l4 -3.2l4 -3.3l3.9 -3.2l4 -3.2l4 -3.2l4 -3.2l3.9 -3.1l4 -3.2l4 -3.1" stroke="#ff0000"/>
<path d="M100.6 974.5l4 12.4l4 13.9l3.9 15.6l4 17l4 18.4l4 19.8l3.9 20.9l4 21.9l4 22.8l4 23.6l4 24.1l3.9 24.4l4 24.7l4 24.6l4 24.4l4 24.1l3.9 23.5l4 22.9l4 22.1l4 21.3l4 20.2l3.9 19.3l4 18.2l4 17.1l4 16.1l3.9 15l4 13.9l4 12.9l4 11.9l3.9 11l4 10l4 9.2l4 8.4l4 7.6l3.9 7l4 6.2l4 5.6l4 5.1l4 4.5l3.9 4.1l4 3.6l4 3.1l4 2.8l3.9 2.4l4 2.1l4 1.8l4 1.4l4 1.3l4 0.9l3.9 0.8l4 0.5l4 0.4l4 0.2l3.9 0l4 -0.2l4 -0.3l4 -0.4l4 -0.5l3.9 -0.7l4 -0.8l4 -0.8l4 -1l3.9 -1.1l4 -1.1l4 -1.3l4 -1.3l4 -1.3l3.9 -1.5l4 -1.5l4 -1.5l4 -1.7l4 -1.6l3.9 -1.8l4 -1.7l4 -1.9l4 -1.8l3.9 -1.9l4 -2l4 -2l4 -2l4 -2.1l3.9 -2.1l4 -2.1l4 -2.2l4 -2.2l4 -2.2l3.9 -2.3l4 -2.3l4 -2.3l4 -2.3l3.9 -2.4l4 -2.4l4 -2.4l4 -2.5l4 -2.4l3.9 -2.5l4 -2.5l4 -2.6l4 -2.5l3.9 -2.6l4 -2.6l4 -2.6l4 -2.7l4 -2.6l3.9 -2.7l4 -2.7l4 -2.7l4 -2.7l4 -2.8l3.9 -2.7l4 -2.8l4 -2.8l4 -2.8l3.9 -2.9l4 -2.8l4 -2.8l4 -2.9l4 -2.9l3.9 -2.9l4 -2.9l4 -2.9l4 -2.9l4 -3l3.9 -3l4 -2.9l4 -3l4 -3l4 -3l3.9 -3l4 -3l4 -3l4 -3.1l3.9 -3l4 -3.1l4 -3l4 -3.1l3.9 -3.1l4 -3.1l4 -3.1l4 -3.1l4 -3.1l3.9 -3.1l4 -3.1l4 -3.1l4 -3.2l4 -3.1l3.9 -3.2l4 -3.1l4 -3.2l4 -3.1l4 -3.2l3.9 -3.1l4 -3.2l4 -3.2l4 -3.1l3.9 -3.2l4 -3.2l4 -3.2l4 -3.1l4 -3.2l3.9 -3.2l4 -3.2l4 -3.1l4 -3.2l3.9 -3.2l4 -3.2l4 -3.2l4 -3.1l4 -3.2l3.9 -3.2l4 -3.2l4 -3.1l4 -3.2l4 -3.2l3.9 -3.1l4 -3.2l4 -3.2l4 -3.1l4 -3.2l3.9 -3.1l4 -3.1l4 -3.2l4 -3.1l3.9 -3.2l4 -3.1l4 -3.1l4 -3.1l4 -3.1l3.9 -3.1l4 -3.1l4 -3.1l4 -3.1l4 -3.1l3.9 -3.1l4 -3l4 -3.1l4 -3l3.9 -3.1l4 -3l4 -3" stroke="#00ff00"/>
<path d="M100.6 974.5l4 10.7l4 12l3.9 13.2l4 14.3l4 15.5l4 16.4l3.9 17.5l4 18.3l4 19.1l4 19.8l4 20.4l3.9 20.9l4 21.2l4 21.4l4 21.5l4 21.5l3.9 21.3l4 21.1l4 20.7l4 20.3l4 19.7l3.9 19l4 18.5l4 17.6l4 16.9l3.9 16.1l4 15.3l4 14.4l4 13.6l3.9 12.8l4 12l4 11.3l4 10.5l4 9.7l3.9 9.1l4 8.4l4 7.7l4 7.2l4 6.6l3.9 6l4 5.5l4 5.1l4 4.6l3.9 4.2l4 3.8l4 3.4l4 3.1l4 2.8l4 2.5l3.9 2.1l4 2l4 1.7l4 1.4l3.9 1.3l4 1l4 0.9l4 0.7l4 0.5l3.9 0.4l4 0.2l4 0.1l4 0l3.9 -0.1l4 -0.3l4 -0.3l4 -0.4l4 -0.6l3.9 -0.6l4 -0.7l4 -0.8l4 -0.8l4 -1l3.9 -0.9l4 -1.1l4 -1.1l4 -1.2l3.9 -1.2l4 -1.2l4 -1.3l4 -1.4l4 -1.4l3.9 -1.4l4 -1.5l4 -1.6l4 -1.5l4 -1.6l3.9 -1.6l4 -1.7l4 -1.7l4 -1.7l3.9 -1.8l4 -1.8l4 -1.8l4 -1.8l4 -1.9l3.9 -1.9l4 -1.9l4 -1.9l4 -2l3.9 -2l4 -2l4 -2l4 -2l4 -2.1l3.9 -2.1l4 -2.1l4 -2.1l4 -2.2l4 -2.1l3.9 -2.2l4 -2.2l4 -2.2l4 -2.2l3.9 -2.3l4 -2.2l4 -2.3l4 -2.3l4 -2.3l3.9 -2.3l4 -2.4l4 -2.3l4 -2.4l4 -2.3l3.9 -2.4l4 -2.4l4 -2.4l4 -2.5l4 -2.4l3.9 -2.4l4 -2.5l4 -2.5l4 -2.5l3.9 -2.5l4 -2.5l4 -2.5l4 -2.5l3.9 -2.5l4 -2.6l4 -2.5l4 -2.6l4 -2.6l3.9 -2.6l4 -2.5l4 -2.6l4 -2.7l4 -2.6l3.9 -2.6l4 -2.6l4 -2.7l4 -2.6l4 -2.7l3.9 -2.6l4 -2.7l4 -2.6l4 -2.7l3.9 -2.7l4 -2.7l4 -2.7l4 -2.7l4 -2.7l3.9 -2.7l4 -2.7l4 -2.7l4 -2.8l3.9 -2.7l4 -2.7l4 -2.8l4 -2.7l4 -2.8l3.9 -2.7l4 -2.8l4 -2.7l4 -2.8l4 -2.7l3.9 -2.8l4 -2.8l4 -2.7l4 -2.8l4 -2.7l3.9 -2.8l4 -2.8l4 -2.8l4 -2.7l3.9 -2.8l4 -2.8l4 -2.8l4 -2.7l4 -2.8l3.9 -2.8l4 -2.8l4 -2.7l4 -2.8l4 -2.8l3.9 -2.8l4 -2.7l4 -2.8l4 -2.8l3.9 -2.8l4 -2.7l4 -2.8" stroke="#0000ff"/>
</g>
<g font-family="'Liberation Sans', Arial, Helvetica, sans-serif" font-size="27" fill="#262626" stroke="#262626" stroke-width="0.4" stroke-linejoin="round">
<text transform="translate(100.2 1683.1) scale(0.87 1)" text-anchor="middle">0</text>
<text transform="translate(232.82 1683.1) scale(0.87 1)" text-anchor="middle">10</text>
<text transform="translate(365.43 1683.1) scale(0.87 1)" text-anchor="middle">20</text>
<text transform="translate(498.05 1683.1) scale(0.87 1)" text-anchor="middle">30</text>
<text transform="translate(630.67 1683.1) scale(0.87 1)" text-anchor="middle">40</text>
<text transform="translate(763.28 1683.1) scale(0.87 1)" text-anchor="middle">50</text>
<text transform="translate(895.9 1683.1) scale(0.87 1)" text-anchor="middle">60</text>
<text transform="translate(90.4 1656.4) scale(0.87 1)" text-anchor="end">100</text>
<text transform="translate(90.4 1572.57) scale(0.87 1)" text-anchor="end">150</text>
<text transform="translate(90.4 1488.75) scale(0.87 1)" text-anchor="end">200</text>
<text transform="translate(90.4 1404.92) scale(0.87 1)" text-anchor="end">250</text>
<text transform="translate(90.4 1321.1) scale(0.87 1)" text-anchor="end">300</text>
<text transform="translate(90.4 1237.27) scale(0.87 1)" text-anchor="end">350</text>
<text transform="translate(90.4 1153.45) scale(0.87 1)" text-anchor="end">400</text>
<text transform="translate(90.4 1069.62) scale(0.87 1)" text-anchor="end">450</text>
<text transform="translate(90.4 985.8) scale(0.87 1)" text-anchor="end">500</text>
</g>
<g font-family="'Liberation Sans', Arial, Helvetica, sans-serif" font-size="29.6" fill="#262626" stroke="#262626" stroke-width="0.4" stroke-linejoin="round">
<text transform="translate(497.45 1722.5) scale(0.9 1)" text-anchor="middle" font-size="30.4">Time in days</text>
<text transform="translate(25.8 1314.4) rotate(-90) scale(0.99 1)" text-anchor="middle" font-size="29.6" stroke-width="0.25" xml:space="preserve">Suscpetible vectors S<tspan font-size="20.7" dy="13">v</tspan></text>
</g>
<rect x="688.8" y="1000" width="183.6" height="140.4" fill="#ffffff" stroke="#262626" stroke-width="2.3"/>
<path d="M701 1020.7h78.4" stroke="#000000" stroke-width="5.6" fill="none"/>
<text transform="translate(783.8 1031.3) scale(0.94 1)" font-family="'Liberation Sans', Arial, Helvetica, sans-serif" font-size="23.6" fill="#000000" stroke="#000000" stroke-width="0.35" xml:space="preserve"><tspan font-family="'DejaVu Serif', 'Liberation Serif', serif" font-style="italic" font-size="21.24" dy="0.5">ξ</tspan><tspan dx="0" dy="-0.5"> = 0.85</tspan></text>
<path d="M701 1053.65h78.4" stroke="#ff0000" stroke-width="5.6" fill="none"/>
<text transform="translate(783.8 1064.25) scale(0.94 1)" font-family="'Liberation Sans', Arial, Helvetica, sans-serif" font-size="23.6" fill="#000000" stroke="#000000" stroke-width="0.35" xml:space="preserve"><tspan font-family="'DejaVu Serif', 'Liberation Serif', serif" font-style="italic" font-size="21.24" dy="0.5">ξ</tspan><tspan dx="0" dy="-0.5">=0.90</tspan></text>
<path d="M701 1086.6h78.4" stroke="#00ff00" stroke-width="5.6" fill="none"/>
<text transform="translate(783.8 1097.2) scale(0.94 1)" font-family="'Liberation Sans', Arial, Helvetica, sans-serif" font-size="23.6" fill="#000000" stroke="#000000" stroke-width="0.35" xml:space="preserve"><tspan font-family="'DejaVu Serif', 'Liberation Serif', serif" font-style="italic" font-size="21.24" dy="0.5">ξ</tspan><tspan dx="0" dy="-0.5"> = 0.95</tspan></text>
<path d="M701 1119.55h78.4" stroke="#0000ff" stroke-width="5.6" fill="none"/>
<text transform="translate(783.8 1130.15) scale(0.94 1)" font-family="'Liberation Sans', Arial, Helvetica, sans-serif" font-size="23.6" fill="#000000" stroke="#000000" stroke-width="0.35" xml:space="preserve"><tspan font-family="'DejaVu Serif', 'Liberation Serif', serif" font-style="italic" font-size="21.24" dy="0.5">ξ</tspan><tspan dx="0" dy="-0.5"> = 1.00</tspan></text>
</g>
<g id="plot-d">
<rect x="1138.4" y="974.5" width="795.4" height="670.6" fill="none" stroke="#262626" stroke-width="2.3"/>
<path d="M1138.4 1645.1v-9.5M1138.4 974.5v9.5M1270.97 1645.1v-9.5M1270.97 974.5v9.5M1403.53 1645.1v-9.5M1403.53 974.5v9.5M1536.1 1645.1v-9.5M1536.1 974.5v9.5M1668.67 1645.1v-9.5M1668.67 974.5v9.5M1801.23 1645.1v-9.5M1801.23 974.5v9.5M1933.8 1645.1v-9.5M1933.8 974.5v9.5M1138.4 1645.1h9.5M1933.8 1645.1h-9.5M1138.4 1561.27h9.5M1933.8 1561.27h-9.5M1138.4 1477.45h9.5M1933.8 1477.45h-9.5M1138.4 1393.62h9.5M1933.8 1393.62h-9.5M1138.4 1309.8h9.5M1933.8 1309.8h-9.5M1138.4 1225.97h9.5M1933.8 1225.97h-9.5M1138.4 1142.15h9.5M1933.8 1142.15h-9.5M1138.4 1058.33h9.5M1933.8 1058.33h-9.5M1138.4 974.5h9.5M1933.8 974.5h-9.5" stroke="#262626" stroke-width="2.3" fill="none"/>
<clipPath id="clip-d"><rect x="1135.4" y="971.5" width="801.4" height="676.6"/></clipPath>
<g clip-path="url(#clip-d)" fill="none" stroke-width="5.6" stroke-linejoin="round" stroke-linecap="butt">
<path d="M1138.4 1645.1l4 -16.3l3.9 -19.1l4 -21.7l4 -24l4 -26.3l4 -28.1l3.9 -29.7l4 -30.9l4 -31.7l4 -32.2l4 -32.1l3.9 -31.7l4 -30.9l4 -29.9l4 -28.5l3.9 -26.9l4 -25.1l4 -23.4l4 -21.6l3.9 -19.7l4 -17.9l4 -16.2l4 -14.5l3.9 -13l4 -11.5l4 -10.2l4 -9l4 -7.9l3.9 -6.8l4 -5.9l4 -5.1l4 -4.4l3.9 -3.6l4 -3.1l4 -2.5l4 -1.9l3.9 -1.6l4 -1.1l4 -0.8l4 -0.4l4 -0.2l3.9 0.2l4 0.4l4 0.6l4 0.8l3.9 1l4 1.2l4 1.3l4 1.5l3.9 1.6l4 1.8l4 1.8l4 2l4 2.1l3.9 2.1l4 2.3l4 2.3l4 2.4l3.9 2.5l4 2.6l4 2.6l4 2.7l4 2.8l3.9 2.8l4 2.8l4 2.9l4 3l3.9 3l4 3.1l4 3.1l4 3.1l3.9 3.2l4 3.3l4 3.2l4 3.3l4 3.4l3.9 3.3l4 3.5l4 3.4l4 3.5l3.9 3.5l4 3.5l4 3.6l4 3.6l4 3.6l3.9 3.7l4 3.7l4 3.7l3.9 3.7l4 3.7l4 3.8l4 3.8l4 3.8l3.9 3.9l4 3.8l4 3.9l4 3.9l4 3.9l3.9 3.9l4 4l4 4l3.9 3.9l4 4l4 4l4 4.1l4 4l3.9 4l4 4.1l4 4l4 4.1l3.9 4.1l4 4.1l4 4.1l4 4.1l4 4.1l3.9 4.2l4 4.1l4 4.1l4 4.2l3.9 4.1l4 4.2l4 4.1l4 4.1l3.9 4.2l4 4.1l4 4.2l4 4.2l4 4.1l3.9 4.2l4 4.1l4 4.1l4 4.2l3.9 4.1l4 4.2l4 4.1l4 4.1l3.9 4.1l4 4.1l4 4.1l4 4.1l4 4.1l3.9 4.1l4 4.1l4 4l4 4.1l3.9 4l4 4l4 4.1l4 4l4 4l3.9 4l4 3.9l4 4l4 3.9l3.9 3.9l4 4l4 3.9l4 3.8l3.9 3.9l4 3.9l4 3.8l4 3.8l4 3.8l3.9 3.8l4 3.8l4 3.7l4 3.8l3.9 3.7l4 3.7l4 3.6l4 3.7l3.9 3.6l4 3.7l4 3.6l4 3.6l3.9 3.5l4 3.5l4 3.6l4 3.5l4 3.4l3.9 3.5l4 3.4l4 3.4l4 3.4l3.9 3.4l4 3.3l4 3.4l4 3.2l3.9 3.3l4 3.3l4 3.2l4 3.2l4 3.2l3.9 3.2l4 3.1l4 3.1l4 3.1l3.9 3.1l4 3.1l4 3" stroke="#000000"/>
<path d="M1138.4 1645.1l4 -14.2l3.9 -16.3l4 -18.4l4 -20.2l4 -22l4 -23.6l3.9 -25l4 -26.1l4 -27.1l4 -27.7l4 -28.1l3.9 -28.2l4 -28l4 -27.5l4 -26.9l3.9 -26.1l4 -24.9l4 -23.8l4 -22.5l3.9 -21.1l4 -19.7l4 -18.3l4 -16.9l3.9 -15.5l4 -14.2l4 -12.9l4 -11.7l4 -10.6l3.9 -9.5l4 -8.6l4 -7.6l4 -6.8l3.9 -6l4 -5.3l4 -4.7l4 -4l3.9 -3.5l4 -3l4 -2.6l4 -2.1l4 -1.8l3.9 -1.4l4 -1.1l4 -0.8l4 -0.5l3.9 -0.3l4 -0.1l4 0.2l4 0.3l3.9 0.5l4 0.7l4 0.8l4 0.9l4 1.1l3.9 1.2l4 1.3l4 1.5l4 1.5l3.9 1.6l4 1.6l4 1.8l4 1.9l4 1.9l3.9 2l4 2l4 2.1l4 2.2l3.9 2.2l4 2.3l4 2.3l4 2.4l3.9 2.4l4 2.4l4 2.5l4 2.6l4 2.6l3.9 2.6l4 2.6l4 2.7l4 2.7l3.9 2.8l4 2.8l4 2.8l4 2.9l4 2.8l3.9 2.9l4 3l4 2.9l3.9 3l4 3l4 3.1l4 3l4 3.1l3.9 3.1l4 3.2l4 3.1l4 3.2l4 3.2l3.9 3.2l4 3.3l4 3.2l3.9 3.3l4 3.3l4 3.3l4 3.3l4 3.4l3.9 3.3l4 3.4l4 3.4l4 3.4l3.9 3.4l4 3.4l4 3.5l4 3.4l4 3.5l3.9 3.5l4 3.5l4 3.5l4 3.5l3.9 3.5l4 3.5l4 3.6l4 3.5l3.9 3.6l4 3.6l4 3.5l4 3.6l4 3.6l3.9 3.6l4 3.6l4 3.6l4 3.6l3.9 3.6l4 3.6l4 3.7l4 3.6l3.9 3.6l4 3.6l4 3.7l4 3.6l4 3.6l3.9 3.7l4 3.6l4 3.7l4 3.6l3.9 3.6l4 3.7l4 3.6l4 3.6l4 3.7l3.9 3.6l4 3.6l4 3.6l4 3.6l3.9 3.6l4 3.7l4 3.6l4 3.6l3.9 3.6l4 3.5l4 3.6l4 3.6l4 3.6l3.9 3.5l4 3.6l4 3.5l4 3.6l3.9 3.5l4 3.5l4 3.5l4 3.5l3.9 3.5l4 3.5l4 3.5l4 3.4l3.9 3.5l4 3.4l4 3.4l4 3.5l4 3.3l3.9 3.5l4 3.3l4 3.4l4 3.4l3.9 3.3l4 3.3l4 3.3l4 3.3l3.9 3.4l4 3.2l4 3.3l4 3.2l4 3.3l3.9 3.2l4 3.2l4 3.2l4 3.2l3.9 3.1l4 3.2l4 3.1" stroke="#ff0000"/>
<path d="M1138.4 1645.1l4 -12.4l3.9 -13.9l4 -15.6l4 -17l4 -18.4l4 -19.8l3.9 -20.9l4 -21.9l4 -22.8l4 -23.6l4 -24.1l3.9 -24.5l4 -24.6l4 -24.6l4 -24.4l3.9 -24.1l4 -23.5l4 -22.9l4 -22.1l3.9 -21.3l4 -20.2l4 -19.3l4 -18.2l3.9 -17.1l4 -16.1l4 -15l4 -13.9l4 -12.9l3.9 -11.9l4 -10.9l4 -10.1l4 -9.2l3.9 -8.4l4 -7.6l4 -6.9l4 -6.3l3.9 -5.6l4 -5.1l4 -4.5l4 -4.1l4 -3.6l3.9 -3.1l4 -2.8l4 -2.4l4 -2.1l3.9 -1.8l4 -1.4l4 -1.3l4 -0.9l3.9 -0.8l4 -0.5l4 -0.4l4 -0.2l4 0l3.9 0.2l4 0.3l4 0.4l4 0.5l3.9 0.7l4 0.8l4 0.9l4 0.9l4 1.1l3.9 1.1l4 1.3l4 1.3l4 1.3l3.9 1.5l4 1.5l4 1.5l4 1.7l3.9 1.6l4 1.8l4 1.7l4 1.8l4 1.9l3.9 1.9l4 2l4 2l4 2l3.9 2.1l4 2.1l4 2.1l4 2.2l4 2.2l3.9 2.2l4 2.3l4 2.2l3.9 2.4l4 2.3l4 2.4l4 2.4l4 2.4l3.9 2.4l4 2.5l4 2.5l4 2.5l4 2.6l3.9 2.5l4 2.6l4 2.6l3.9 2.6l4 2.7l4 2.6l4 2.7l4 2.7l3.9 2.7l4 2.7l4 2.8l4 2.7l3.9 2.8l4 2.8l4 2.8l4 2.9l4 2.8l3.9 2.8l4 2.9l4 2.9l4 2.9l3.9 2.9l4 2.9l4 2.9l4 3l3.9 3l4 2.9l4 3l4 3l4 3l3.9 3l4 3l4 3l4 3.1l3.9 3l4 3.1l4 3.1l4 3l3.9 3.1l4 3.1l4 3.1l4 3.1l4 3.1l3.9 3.1l4 3.1l4 3.1l4 3.2l3.9 3.1l4 3.2l4 3.1l4 3.1l4 3.2l3.9 3.2l4 3.1l4 3.2l4 3.2l3.9 3.1l4 3.2l4 3.2l4 3.1l3.9 3.2l4 3.2l4 3.2l4 3.2l4 3.1l3.9 3.2l4 3.2l4 3.2l4 3.2l3.9 3.1l4 3.2l4 3.2l4 3.2l3.9 3.1l4 3.2l4 3.2l4 3.1l3.9 3.2l4 3.1l4 3.2l4 3.2l4 3.1l3.9 3.2l4 3.1l4 3.1l4 3.2l3.9 3.1l4 3.1l4 3.1l4 3.1l3.9 3.1l4 3.1l4 3.1l4 3.1l4 3.1l3.9 3l4 3.1l4 3.1l4 3l3.9 3.1l4 3l4 3" stroke="#00ff00"/>
<path d="M1138.4 1645.1l4 -10.7l3.9 -12l4 -13.2l4 -14.3l4 -15.4l4 -16.5l3.9 -17.5l4 -18.3l4 -19.1l4 -19.8l4 -20.4l3.9 -20.9l4 -21.2l4 -21.4l4 -21.5l3.9 -21.5l4 -21.3l4 -21.1l4 -20.7l3.9 -20.3l4 -19.7l4 -19.1l4 -18.4l3.9 -17.6l4 -16.9l4 -16.1l4 -15.2l4 -14.5l3.9 -13.6l4 -12.8l4 -12.1l4 -11.2l3.9 -10.5l4 -9.7l4 -9.1l4 -8.4l3.9 -7.7l4 -7.2l4 -6.5l4 -6.1l4 -5.5l3.9 -5.1l4 -4.6l4 -4.2l4 -3.8l3.9 -3.4l4 -3.1l4 -2.8l4 -2.5l3.9 -2.1l4 -2l4 -1.7l4 -1.4l4 -1.3l3.9 -1l4 -0.9l4 -0.7l4 -0.5l3.9 -0.4l4 -0.2l4 -0.1l4 0l4 0.1l3.9 0.3l4 0.3l4 0.5l4 0.5l3.9 0.6l4 0.7l4 0.8l4 0.8l3.9 1l4 1l4 1l4 1.1l4 1.2l3.9 1.2l4 1.2l4 1.4l4 1.3l3.9 1.4l4 1.4l4 1.5l4 1.6l4 1.5l3.9 1.6l4 1.6l4 1.7l3.9 1.7l4 1.7l4 1.8l4 1.8l4 1.8l3.9 1.8l4 1.9l4 1.9l4 1.9l4 1.9l3.9 2l4 2l4 2l3.9 2l4 2l4 2.1l4 2.1l4 2.1l3.9 2.1l4 2.1l4 2.2l4 2.2l3.9 2.2l4 2.2l4 2.2l4 2.3l4 2.2l3.9 2.3l4 2.3l4 2.3l4 2.3l3.9 2.3l4 2.4l4 2.4l4 2.3l3.9 2.4l4 2.4l4 2.4l4 2.5l4 2.4l3.9 2.5l4 2.4l4 2.5l4 2.5l3.9 2.5l4 2.5l4 2.5l4 2.5l3.9 2.5l4 2.6l4 2.5l4 2.6l4 2.6l3.9 2.6l4 2.5l4 2.6l4 2.6l3.9 2.7l4 2.6l4 2.6l4 2.6l4 2.7l3.9 2.6l4 2.7l4 2.7l4 2.6l3.9 2.7l4 2.7l4 2.7l4 2.7l3.9 2.7l4 2.7l4 2.7l4 2.7l4 2.8l3.9 2.7l4 2.7l4 2.7l4 2.8l3.9 2.7l4 2.8l4 2.7l4 2.8l3.9 2.7l4 2.8l4 2.7l4 2.8l3.9 2.7l4 2.8l4 2.8l4 2.8l4 2.7l3.9 2.8l4 2.8l4 2.7l4 2.8l3.9 2.8l4 2.8l4 2.7l4 2.8l3.9 2.8l4 2.8l4 2.8l4 2.7l4 2.8l3.9 2.8l4 2.7l4 2.8l4 2.8l3.9 2.7l4 2.8l4 2.8" stroke="#0000ff"/>
</g>
<g font-family="'Liberation Sans', Arial, Helvetica, sans-serif" font-size="27" fill="#262626" stroke="#262626" stroke-width="0.4" stroke-linejoin="round">
<text transform="translate(1138 1683.1) scale(0.87 1)" text-anchor="middle">0</text>
<text transform="translate(1270.57 1683.1) scale(0.87 1)" text-anchor="middle">10</text>
<text transform="translate(1403.13 1683.1) scale(0.87 1)" text-anchor="middle">20</text>
<text transform="translate(1535.7 1683.1) scale(0.87 1)" text-anchor="middle">30</text>
<text transform="translate(1668.27 1683.1) scale(0.87 1)" text-anchor="middle">40</text>
<text transform="translate(1800.83 1683.1) scale(0.87 1)" text-anchor="middle">50</text>
<text transform="translate(1933.4 1683.1) scale(0.87 1)" text-anchor="middle">60</text>
<text transform="translate(1128.2 1656.4) scale(0.87 1)" text-anchor="end">100</text>
<text transform="translate(1128.2 1572.57) scale(0.87 1)" text-anchor="end">150</text>
<text transform="translate(1128.2 1488.75) scale(0.87 1)" text-anchor="end">200</text>
<text transform="translate(1128.2 1404.92) scale(0.87 1)" text-anchor="end">250</text>
<text transform="translate(1128.2 1321.1) scale(0.87 1)" text-anchor="end">300</text>
<text transform="translate(1128.2 1237.27) scale(0.87 1)" text-anchor="end">350</text>
<text transform="translate(1128.2 1153.45) scale(0.87 1)" text-anchor="end">400</text>
<text transform="translate(1128.2 1069.62) scale(0.87 1)" text-anchor="end">450</text>
<text transform="translate(1128.2 985.8) scale(0.87 1)" text-anchor="end">500</text>
</g>
<g font-family="'Liberation Sans', Arial, Helvetica, sans-serif" font-size="29.6" fill="#262626" stroke="#262626" stroke-width="0.4" stroke-linejoin="round">
<text transform="translate(1535.1 1722.5) scale(0.9 1)" text-anchor="middle" font-size="30.4">Time in days</text>
<text transform="translate(1063.8 1314.6) rotate(-90) scale(0.99 1)" text-anchor="middle" font-size="29.6" stroke-width="0.25" xml:space="preserve">Infected vectors I<tspan font-size="20.7" dy="13">v</tspan></text>
</g>
<rect x="1726.6" y="1000" width="183.6" height="140.4" fill="#ffffff" stroke="#262626" stroke-width="2.3"/>
<path d="M1738.8 1020.7h78.4" stroke="#000000" stroke-width="5.6" fill="none"/>
<text transform="translate(1821.6 1031.3) scale(0.94 1)" font-family="'Liberation Sans', Arial, Helvetica, sans-serif" font-size="23.6" fill="#000000" stroke="#000000" stroke-width="0.35" xml:space="preserve"><tspan font-family="'DejaVu Serif', 'Liberation Serif', serif" font-style="italic" font-size="21.24" dy="0.5">ξ</tspan><tspan dx="0" dy="-0.5"> = 0.85</tspan></text>
<path d="M1738.8 1053.65h78.4" stroke="#ff0000" stroke-width="5.6" fill="none"/>
<text transform="translate(1821.6 1064.25) scale(0.94 1)" font-family="'Liberation Sans', Arial, Helvetica, sans-serif" font-size="23.6" fill="#000000" stroke="#000000" stroke-width="0.35" xml:space="preserve"><tspan font-family="'DejaVu Serif', 'Liberation Serif', serif" font-style="italic" font-size="21.24" dy="0.5">ξ</tspan><tspan dx="0" dy="-0.5">=0.90</tspan></text>
<path d="M1738.8 1086.6h78.4" stroke="#00ff00" stroke-width="5.6" fill="none"/>
<text transform="translate(1821.6 1097.2) scale(0.94 1)" font-family="'Liberation Sans', Arial, Helvetica, sans-serif" font-size="23.6" fill="#000000" stroke="#000000" stroke-width="0.35" xml:space="preserve"><tspan font-family="'DejaVu Serif', 'Liberation Serif', serif" font-style="italic" font-size="21.24" dy="0.5">ξ</tspan><tspan dx="0" dy="-0.5"> = 0.95</tspan></text>
<path d="M1738.8 1119.55h78.4" stroke="#0000ff" stroke-width="5.6" fill="none"/>
<text transform="translate(1821.6 1130.15) scale(0.94 1)" font-family="'Liberation Sans', Arial, Helvetica, sans-serif" font-size="23.6" fill="#000000" stroke="#000000" stroke-width="0.35" xml:space="preserve"><tspan font-family="'DejaVu Serif', 'Liberation Serif', serif" font-style="italic" font-size="21.24" dy="0.5">ξ</tspan><tspan dx="0" dy="-0.5"> = 1.00</tspan></text>
</g>
<g font-family="'DejaVu Serif', 'Liberation Serif', serif" font-size="36.9" fill="#000000" stroke="#000000" stroke-width="0.15">
<text x="49.25" y="854" textLength="51.45" lengthAdjust="spacingAndGlyphs">(a)</text>
<text x="117.35" y="854" textLength="104.7" lengthAdjust="spacingAndGlyphs">Effect</text>
<text x="236.1" y="854" textLength="34.2" lengthAdjust="spacingAndGlyphs">of</text>
<text x="282.95" y="854" font-style="italic" font-size="35.79" textLength="19.25" lengthAdjust="spacingAndGlyphs">ξ</text>
<text x="316.6" y="854" textLength="44.2" lengthAdjust="spacingAndGlyphs">on</text>
<text x="376.1" y="854" textLength="57.2" lengthAdjust="spacingAndGlyphs">the</text>
<text x="447.35" y="854" textLength="170.45" lengthAdjust="spacingAndGlyphs">dynamics</text>
<text x="631.1" y="854" textLength="34.2" lengthAdjust="spacingAndGlyphs">of</text>
<text x="679.85" y="854" textLength="142.2" lengthAdjust="spacingAndGlyphs">infected</text>
<text x="836.1" y="854" textLength="92.2" lengthAdjust="spacingAndGlyphs">hosts</text>
<text x="1090.5" y="854" textLength="54.7" lengthAdjust="spacingAndGlyphs">(b)</text>
<text x="1161.1" y="854" textLength="104.7" lengthAdjust="spacingAndGlyphs">Effect</text>
<text x="1279.85" y="854" textLength="34.2" lengthAdjust="spacingAndGlyphs">of</text>
<text x="1327.2" y="854" font-style="italic" font-size="35.79" textLength="19.25" lengthAdjust="spacingAndGlyphs">ξ</text>
<text x="1360.6" y="854" textLength="43.95" lengthAdjust="spacingAndGlyphs">on</text>
<text x="1419.85" y="854" textLength="57.2" lengthAdjust="spacingAndGlyphs">the</text>
<text x="1491.1" y="854" textLength="170.95" lengthAdjust="spacingAndGlyphs">dynamics</text>
<text x="1674.85" y="854" textLength="34.95" lengthAdjust="spacingAndGlyphs">of</text>
<text x="1723.1" y="854" textLength="170.2" lengthAdjust="spacingAndGlyphs">recovered</text>
<text x="1907.35" y="854" textLength="92.2" lengthAdjust="spacingAndGlyphs">hosts</text>
<text x="-3" y="1821" textLength="50.7" lengthAdjust="spacingAndGlyphs">(c)</text>
<text x="63.1" y="1821" textLength="104.7" lengthAdjust="spacingAndGlyphs">Effect</text>
<text x="182.35" y="1821" textLength="34.2" lengthAdjust="spacingAndGlyphs">of</text>
<text x="229.2" y="1821" font-style="italic" font-size="35.79" textLength="19.25" lengthAdjust="spacingAndGlyphs">ξ</text>
<text x="262.85" y="1821" textLength="44.2" lengthAdjust="spacingAndGlyphs">on</text>
<text x="321.85" y="1821" textLength="57.7" lengthAdjust="spacingAndGlyphs">the</text>
<text x="393.1" y="1821" textLength="170.2" lengthAdjust="spacingAndGlyphs">dynamics</text>
<text x="576.85" y="1821" textLength="33.95" lengthAdjust="spacingAndGlyphs">of</text>
<text x="624.85" y="1821" textLength="197.7" lengthAdjust="spacingAndGlyphs">susceptible</text>
<text x="836.6" y="1821" textLength="127.95" lengthAdjust="spacingAndGlyphs">vectors</text>
<text x="1059.75" y="1821" textLength="54.7" lengthAdjust="spacingAndGlyphs">(d)</text>
<text x="1130.6" y="1821" textLength="104.7" lengthAdjust="spacingAndGlyphs">Effect</text>
<text x="1249.85" y="1821" textLength="33.45" lengthAdjust="spacingAndGlyphs">of</text>
<text x="1296.7" y="1821" font-style="italic" font-size="35.79" textLength="19.25" lengthAdjust="spacingAndGlyphs">ξ</text>
<text x="1330.35" y="1821" textLength="43.7" lengthAdjust="spacingAndGlyphs">on</text>
<text x="1389.35" y="1821" textLength="57.7" lengthAdjust="spacingAndGlyphs">the</text>
<text x="1460.6" y="1821" textLength="170.2" lengthAdjust="spacingAndGlyphs">dynamics</text>
<text x="1644.35" y="1821" textLength="33.95" lengthAdjust="spacingAndGlyphs">of</text>
<text x="1693.1" y="1821" textLength="141.45" lengthAdjust="spacingAndGlyphs">infected</text>
<text x="1849.1" y="1821" textLength="127.95" lengthAdjust="spacingAndGlyphs">vectors</text>
</g>
</svg>
</body>
</html>
